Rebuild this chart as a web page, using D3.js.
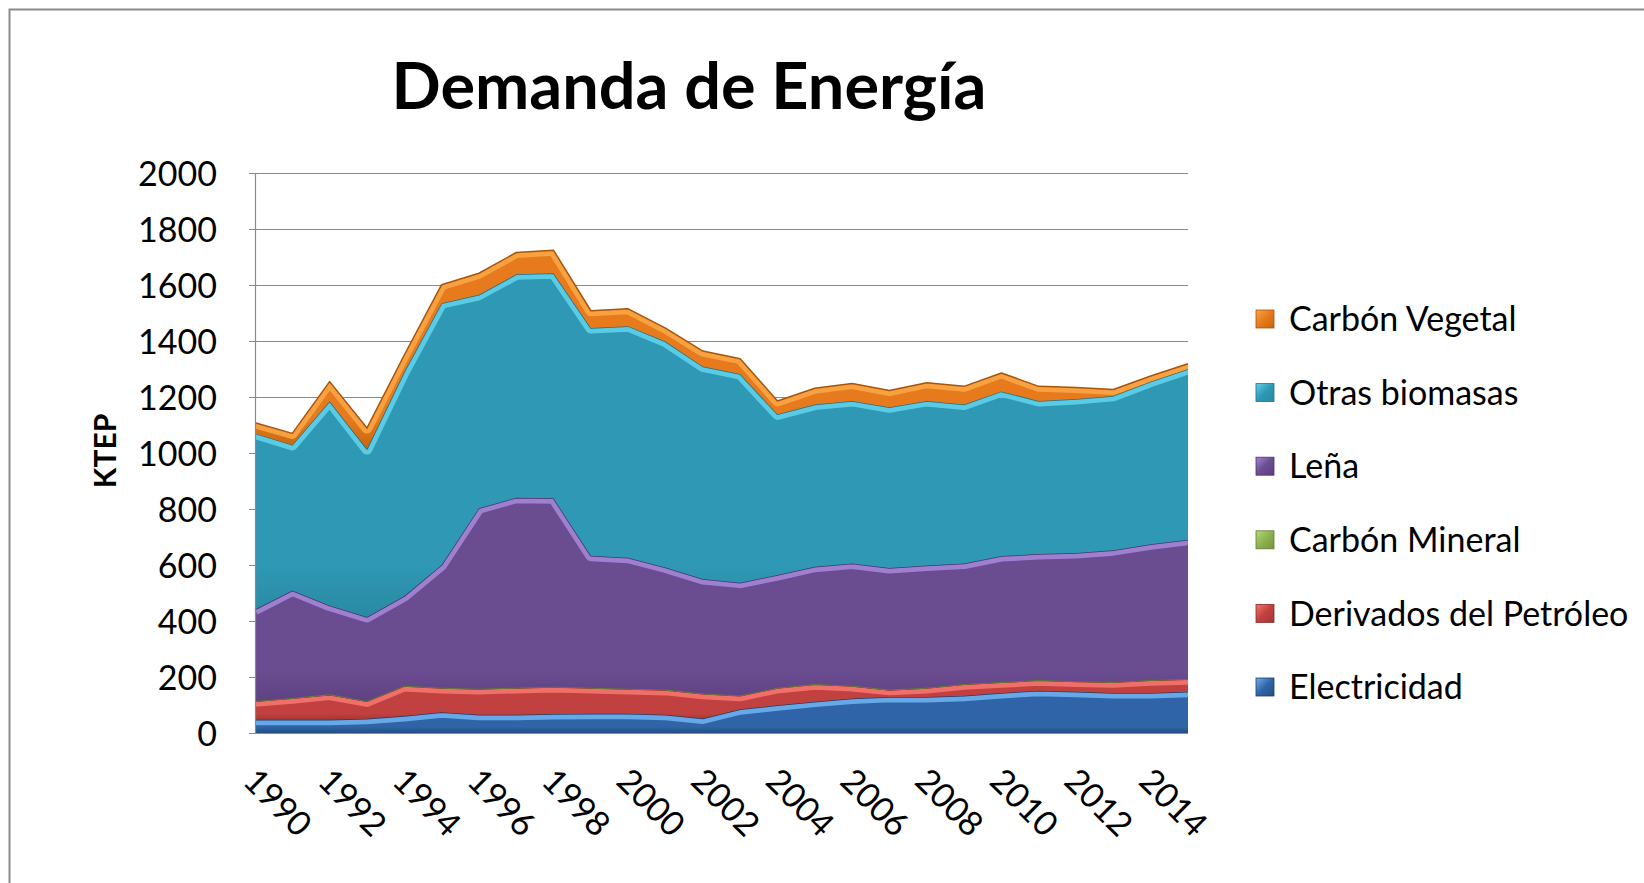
<!DOCTYPE html>
<html><head><meta charset="utf-8">
<script src="https://cdn.jsdelivr.net/npm/d3@7"></script>
<style>
html,body{margin:0;padding:0;background:#fff;overflow:hidden}
text{font-family:Lato,"Open Sans",sans-serif;fill:#000}
</style></head>
<body>
<svg id="chart" width="1644" height="883"></svg>
<script>
const years = [1990,1991,1992,1993,1994,1995,1996,1997,1998,1999,2000,2001,2002,2003,2004,2005,2006,2007,2008,2009,2010,2011,2012,2013,2014,2015];
const electricidad   = [47,47,47,51,61,74,65,65,68,69,69,65,52,85,99,112,123,129,129,133,143,151,147,143,143,147];
const derivados      = [66,77,90,62,107,87,92,96,96,92,88,89,88,48,62,62,45,25,32,41,38,37,37,38,45,45];
const carbonMineral  = [1,1,1,1,1,1,1,1,1,1,1,1,1,1,1,1,1,1,1,1,1,1,1,1,1,1];
const lena           = [327,384,317,300,320,438,645,678,673,471,468,436,409,403,402,419,436,434,436,430,450,450,458,471,485,497];
const otrasBiomasas  = [629,520,730,600,801,935,762,798,804,813,827,807,759,745,574,579,581,574,588,568,588,547,550,551,581,610];
const carbonVegetal  = [38,41,70,75,60,66,77,78,82,62,62,48,55,55,48,58,62,60,65,65,66,52,41,23,20,19];

const seriesNames = ["Electricidad","Derivados del Petróleo","Carbón Mineral","Leña","Otras biomasas","Carbón Vegetal"];
const seriesValues = [electricidad, derivados, carbonMineral, lena, otrasBiomasas, carbonVegetal];
const yTicks = [0,200,400,600,800,1000,1200,1400,1600,1800,2000];
const xTickLabels = [1990,1992,1994,1996,1998,2000,2002,2004,2006,2008,2010,2012,2014];
const titleText = "Demanda de Energía";
const yAxisTitle = "KTEP";

const palette = {
  "Electricidad":           {main:"#2f65a8", light:"#6eb0ee", dark:"#234d82", edge:"#1d3f6b"},
  "Derivados del Petróleo": {main:"#c0413f", light:"#f57470", dark:"#a53634", edge:"#8a2a28"},
  "Carbón Mineral":         {main:"#8db24f", light:"#b8d87a", dark:"#74963c", edge:"#5f7d30"},
  "Leña":                   {main:"#6a4c90", light:"#a585d6", dark:"#5e4282", edge:"#4a3468"},
  "Otras biomasas":         {main:"#2f98b4", light:"#5fd0ea", dark:"#2a89a3", edge:"#226f85"},
  "Carbón Vegetal":         {main:"#e67a1c", light:"#f9a546", dark:"#c9650f", edge:"#a9540b"}
};

const svg = d3.select("#chart");
const plot = {left:255, right:1188, top:173, bottom:733};

svg.append("rect").attr("x",9.5).attr("y",9.5).attr("width",1700).attr("height",1000)
  .attr("fill","#fff").attr("stroke","#8c8c8c").attr("stroke-width",2);

const x = d3.scaleLinear().domain([years[0], years[years.length-1]]).range([plot.left, plot.right]);
const y = d3.scaleLinear().domain([0,2000]).range([plot.bottom, plot.top]);

const grid = svg.append("g").attr("transform",`translate(${plot.left},0)`)
  .call(d3.axisLeft(y).tickValues(yTicks).tickSize(-(plot.right-plot.left)).tickFormat(""));
grid.select(".domain").remove();
grid.selectAll("line").attr("stroke","#8a8a8a").attr("stroke-width",1.2);

const table = years.map((yr,i)=>{
  const o = {year:yr};
  seriesNames.forEach((n,k)=>o[n]=seriesValues[k][i]);
  return o;
});
const stacked = d3.stack().keys(seriesNames)(table);

const defs = svg.append("defs");
seriesNames.forEach((n,k)=>{
  const p = palette[n];
  const g = defs.append("linearGradient").attr("id","grad"+k).attr("x1",0).attr("y1",0).attr("x2",0).attr("y2",1);
  g.append("stop").attr("offset","0%").attr("stop-color",p.main);
  g.append("stop").attr("offset","85%").attr("stop-color",p.main);
  g.append("stop").attr("offset","100%").attr("stop-color",p.dark);
  const lg = defs.append("linearGradient").attr("id","lgrad"+k).attr("x1",0).attr("y1",0).attr("x2",1).attr("y2",1);
  lg.append("stop").attr("offset","0%").attr("stop-color",p.light);
  lg.append("stop").attr("offset","50%").attr("stop-color",p.main);
  lg.append("stop").attr("offset","100%").attr("stop-color",p.dark);
});

const area = d3.area().x(d=>x(d.data.year)).y0(d=>y(d[0])).y1(d=>y(d[1]));
const topLine = d3.line().x(d=>x(d.data.year)).y(d=>y(d[1]));

const layers = svg.append("g");
stacked.forEach((s,k)=>{
  const p = palette[s.key];
  const cid = "clip"+k;
  defs.append("clipPath").attr("id",cid).append("path").attr("d",area(s));
  layers.append("path").attr("d",area(s)).attr("fill",`url(#grad${k})`);
  layers.append("path").attr("d",topLine(s)).attr("fill","none")
    .attr("stroke",p.light).attr("stroke-width",11).attr("stroke-linejoin","round")
    .attr("clip-path",`url(#${cid})`).attr("opacity",0.9);
  layers.append("path").attr("d",topLine(s)).attr("fill","none")
    .attr("stroke",p.edge).attr("stroke-width",1.5).attr("stroke-linejoin","round");
});

const yAxis = svg.append("g").attr("transform",`translate(${plot.left},0)`)
  .call(d3.axisLeft(y).tickValues(yTicks).tickSize(6).tickPadding(10).tickFormat(d3.format("d")));
yAxis.select(".domain").attr("stroke","#8a8a8a").attr("stroke-width",1.2);
yAxis.selectAll(".tick line").attr("stroke","#8a8a8a");
yAxis.selectAll("text").attr("font-size",34).attr("font-family","Lato").attr("fill","#000").attr("dx",-22).attr("dy","0.36em");

const xAxis = svg.append("g").attr("transform",`translate(0,${plot.bottom})`)
  .call(d3.axisBottom(x).tickValues(xTickLabels).tickSize(0).tickFormat(d3.format("d")));
xAxis.select(".domain").remove();
xAxis.selectAll("text")
  .attr("font-size",34).attr("font-family","Lato").attr("fill","#000")
  .attr("text-anchor","start").attr("y",0).attr("x",0).attr("dy",0)
  .attr("transform","translate(-14,50) rotate(45)");

svg.append("text").attr("transform","translate(116,451) rotate(-90)")
  .attr("text-anchor","middle").attr("font-size",30).attr("font-weight","bold").text(yAxisTitle);

const t = svg.append("text").attr("x",689).attr("y",109).attr("text-anchor","middle")
  .attr("font-weight","bold").attr("font-size",60).text(titleText);
const tw = t.node().getComputedTextLength();
t.attr("font-size", 60*595/tw);

const legendOrder = seriesNames.slice().reverse();
const lg = svg.append("g");
legendOrder.forEach((n,i)=>{
  const k = seriesNames.indexOf(n);
  const p = palette[n];
  const cy = 319 + i*73.6;
  lg.append("rect").attr("x",1256).attr("y",cy-9).attr("width",18).attr("height",18)
    .attr("fill",`url(#lgrad${k})`).attr("stroke",p.edge).attr("stroke-width",0.8);
  lg.append("text").attr("x",1289).attr("y",cy).attr("dy","0.36em").attr("font-size",34).text(n);
});
</script>
</body></html>
